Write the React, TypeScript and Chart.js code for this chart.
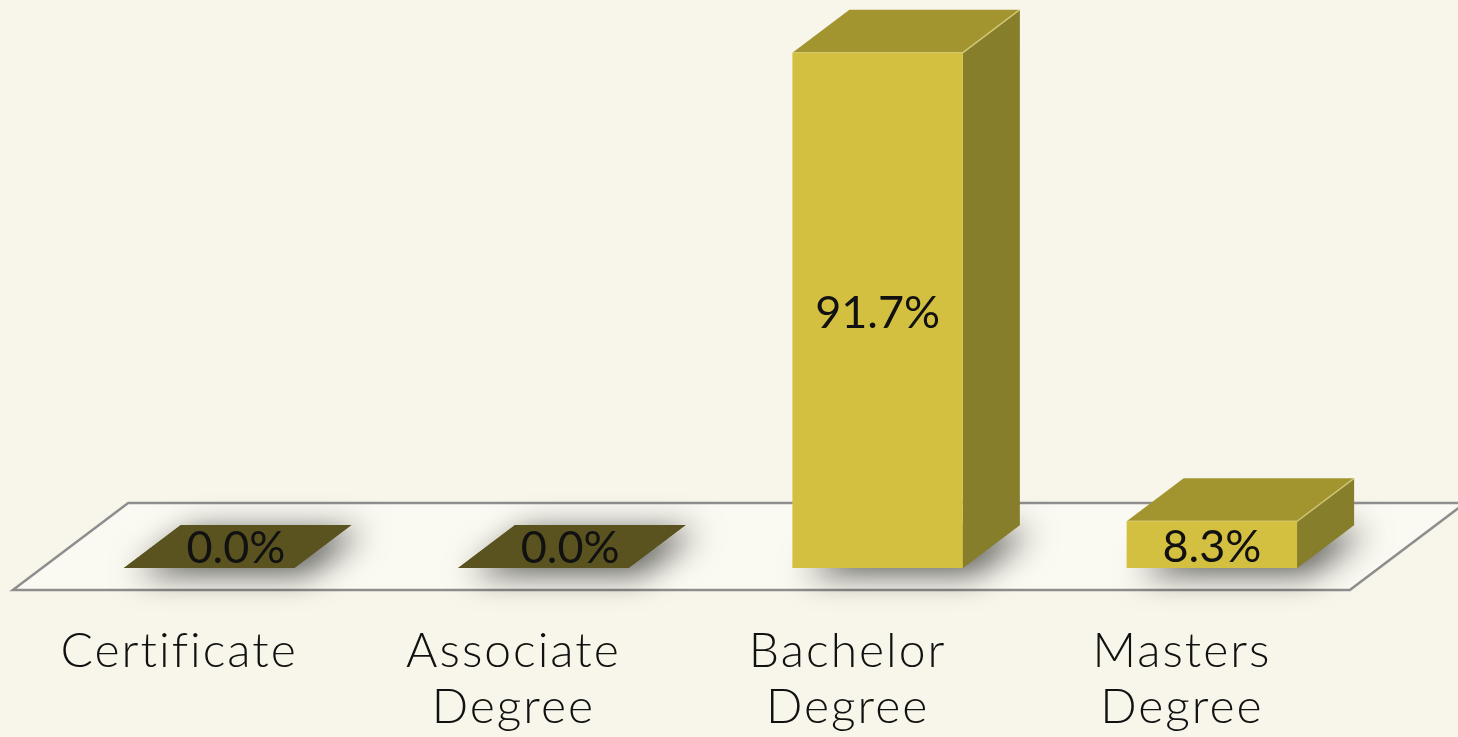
import React, { useEffect, useRef } from 'react';
import { Chart, registerables } from 'chart.js';

Chart.register(...registerables);

const categories: string[][] = [['Certificate'], ['Associate', 'Degree'], ['Bachelor', 'Degree'], ['Masters', 'Degree']];
const values: number[] = [0.0, 0.0, 91.7, 8.3];
const valueLabels: string[] = ['0.0%', '0.0%', '91.7%', '8.3%'];

const BG = '#F8F6EA';
const FLOOR = '#FBFAF2';
const FRONT = '#D4C040';
const SIDE = '#877E2C';
const TOP = '#A2952F';
const ZERO_FACE = '#5A5320';
const DX = 57;
const DY = 43;
const GAP = 22;
const LETTER_SPACING = '2px';

const threeD = {
  id: 'threeD',
  beforeDraw(chart: any) {
    (chart.ctx as any).letterSpacing = LETTER_SPACING;
  },
  beforeDatasetsDraw(chart: any) {
    const { ctx, chartArea } = chart;
    const base = chartArea.bottom;
    const k = GAP / DY;
    const fx0 = chartArea.left - DX * k;
    const fy0 = base + DY * k;
    const fx1 = chartArea.right - DX * k;
    const bdx = DX * (1 + 2 * k);
    const bdy = DY * (1 + 2 * k);
    ctx.save();
    ctx.beginPath();
    ctx.moveTo(fx0, fy0);
    ctx.lineTo(fx1, fy0);
    ctx.lineTo(fx1 + bdx, fy0 - bdy);
    ctx.lineTo(fx0 + bdx, fy0 - bdy);
    ctx.closePath();
    ctx.fillStyle = FLOOR;
    ctx.fill();
    ctx.lineWidth = 2.5;
    ctx.strokeStyle = '#8E8E8E';
    ctx.stroke();
    ctx.restore();

    const meta = chart.getDatasetMeta(0);
    meta.data.forEach((bar: any) => {
      const { x, y, base: b, width } = bar.getProps(['x', 'y', 'base', 'width'], true);
      const l = x - width / 2;
      const r = x + width / 2;
      const isZero = Math.abs(b - y) < 0.5;
      // soft shadow on the floor
      ctx.save();
      ctx.shadowColor = 'rgba(0,0,0,0.65)';
      ctx.shadowBlur = 32;
      ctx.shadowOffsetX = 12;
      ctx.shadowOffsetY = 6;
      ctx.beginPath();
      ctx.moveTo(l, b);
      ctx.lineTo(r, b);
      ctx.lineTo(r + DX, b - DY);
      ctx.lineTo(l + DX, b - DY);
      ctx.closePath();
      ctx.fillStyle = isZero ? ZERO_FACE : SIDE;
      ctx.fill();
      ctx.restore();

      ctx.save();
      if (!isZero) {
        ctx.beginPath();
        ctx.moveTo(r, b);
        ctx.lineTo(r + DX, b - DY);
        ctx.lineTo(r + DX, y - DY);
        ctx.lineTo(r, y);
        ctx.closePath();
        ctx.fillStyle = SIDE;
        ctx.fill();
      }
      ctx.beginPath();
      ctx.moveTo(l, y);
      ctx.lineTo(r, y);
      ctx.lineTo(r + DX, y - DY);
      ctx.lineTo(l + DX, y - DY);
      ctx.closePath();
      ctx.fillStyle = isZero ? ZERO_FACE : TOP;
      ctx.fill();
      if (!isZero) {
        ctx.strokeStyle = 'rgba(235,225,150,0.6)';
        ctx.lineWidth = 1.5;
        ctx.beginPath();
        ctx.moveTo(l, y);
        ctx.lineTo(r, y);
        ctx.lineTo(r + DX, y - DY);
        ctx.stroke();
      }
      ctx.restore();
    });
  },
  afterDatasetsDraw(chart: any) {
    const { ctx } = chart;
    const meta = chart.getDatasetMeta(0);
    meta.data.forEach((bar: any, i: number) => {
      const { x, y, base: b } = bar.getProps(['x', 'y', 'base'], true);
      const isZero = Math.abs(b - y) < 0.5;
      ctx.save();
      (ctx as any).letterSpacing = '0px';
      ctx.fillStyle = '#111111';
      ctx.textAlign = 'center';
      ctx.textBaseline = 'middle';
      ctx.font = '400 45px Lato, "Open Sans", sans-serif';
      if (isZero) {
        ctx.fillText(valueLabels[i], x + DX * 0.47, b - DY / 2 + 2);
      } else {
        ctx.fillText(valueLabels[i], x, (y + b) / 2 + 3);
      }
      ctx.restore();
    });
  },
  afterDraw(chart: any) {
    (chart.ctx as any).letterSpacing = '0px';
  },
};

export default function App() {
  const ref = useRef<HTMLCanvasElement | null>(null);
  useEffect(() => {
    const canvas = ref.current;
    if (!canvas) return;
    const chart = new Chart(canvas, {
      type: 'bar',
      data: {
        labels: categories,
        datasets: [
          {
            data: values,
            backgroundColor: FRONT,
            borderWidth: 0,
            barPercentage: 0.51,
            categoryPercentage: 1,
          },
        ],
      },
      options: {
        responsive: false,
        animation: false,
        layout: { padding: { left: 42, right: 79, top: 6, bottom: 0 } },
        plugins: { legend: { display: false }, tooltip: { enabled: false } },
        scales: {
          x: {
            grid: { display: false, drawTicks: false },
            border: { display: false },
            ticks: {
              color: '#111111',
              padding: 55,
              labelOffset: -30,
              font: { family: 'Lato, "Open Sans", sans-serif', size: 48, weight: '300', lineHeight: 1.18 },
            },
            afterFit: (scale: any) => {
              scale.height = 169;
            },
          },
          y: { display: false, min: 0, max: 100 },
        },
      },
      plugins: [threeD],
    });
    return () => chart.destroy();
  }, []);
  return (
    <div style={{ position: 'fixed', left: 0, top: 0, width: 1458, height: 737, background: BG }}>
      <canvas ref={ref} width={1458} height={737} style={{ display: 'block' }} />
    </div>
  );
}
